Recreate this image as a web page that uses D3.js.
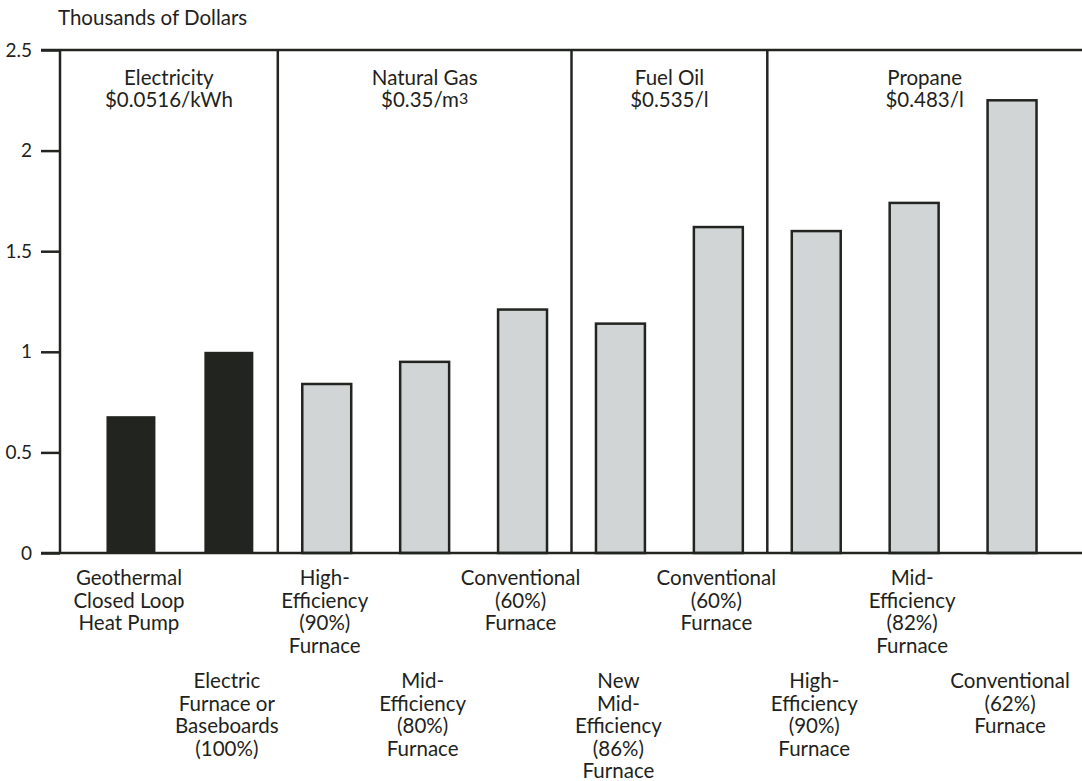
<!DOCTYPE html>
<html>
<head>
<meta charset="utf-8">
<script src="https://cdn.jsdelivr.net/npm/d3@7"></script>
<style>
  html, body { margin: 0; padding: 0; background: #fff; }
  #chart { width: 1082px; height: 781px; }
  text { font-family: Lato, "Open Sans", sans-serif; fill: #231f20; }
</style>
</head>
<body>
<div id="chart"></div>
<script>
// heating costs, thousands of dollars
const categories = [
    ["Geothermal", "Closed Loop", "Heat Pump"],
    ["Electric", "Furnace or", "Baseboards", "(100%)"],
    ["High-", "Efficiency", "(90%)", "Furnace"],
    ["Mid-", "Efficiency", "(80%)", "Furnace"],
    ["Conventional", "(60%)", "Furnace"],
    ["New", "Mid-", "Efficiency", "(86%)", "Furnace"],
    ["Conventional", "(60%)", "Furnace"],
    ["High-", "Efficiency", "(90%)", "Furnace"],
    ["Mid-", "Efficiency", "(82%)", "Furnace"],
    ["Conventional", "(62%)", "Furnace"]
];
const costs = [0.68, 1.0, 0.84, 0.95, 1.21, 1.14, 1.62, 1.60, 1.74, 2.25];
const fuelOf = [0, 0, 1, 1, 1, 2, 2, 3, 3, 3];
const fuels = [
    {name: "Electricity", price: "$0.0516/kWh"},
    {name: "Natural Gas", price: "$0.35/m", sup: "3"},
    {name: "Fuel Oil", price: "$0.535/l"},
    {name: "Propane", price: "$0.483/l"}
];
const yTicks = [0, 0.5, 1, 1.5, 2, 2.5];
const yTickLabels = ["0", "0.5", "1", "1.5", "2", "2.5"];

function renderChart(selector) {
    const W = 1082, H = 781;
    const left = 60, right = 1082, top = 50, bottom = 553;
    const ink = "#222420";
    const fs = 20.5;

    const svg = d3.select(selector).append("svg")
        .attr("width", W)
        .attr("height", H);

    const idx = d3.range(categories.length);

    const x = d3.scaleBand()
        .domain(idx)
        .range([82, 1061])
        .paddingInner(0.5)
        .paddingOuter(0.25);

    const y = d3.scaleLinear()
        .domain([0, 2.5])
        .range([bottom, top]);

    // bars
    svg.selectAll(".bar")
        .data(idx)
        .enter()
        .append("rect")
        .attr("class", "bar")
        .attr("x", i => x(i))
        .attr("y", i => y(costs[i]))
        .attr("width", x.bandwidth())
        .attr("height", i => y(0) - y(costs[i]))
        .attr("fill", i => fuelOf[i] === 0 ? ink : "#d1d5d6")
        .attr("stroke", i => fuelOf[i] === 0 ? "none" : ink)
        .attr("stroke-width", 2.5);

    // frame lines
    svg.append("line")
        .attr("x1", 41).attr("x2", right)
        .attr("y1", y(2.5)).attr("y2", y(2.5))
        .attr("stroke", ink).attr("stroke-width", 2.5);
    svg.append("line")
        .attr("x1", 41).attr("x2", right)
        .attr("y1", y(0)).attr("y2", y(0))
        .attr("stroke", ink).attr("stroke-width", 2.5);

    // y axis
    const yAxis = svg.append("g")
        .attr("transform", `translate(${left},0)`)
        .call(d3.axisLeft(y)
            .tickValues(yTicks)
            .tickFormat((d, i) => yTickLabels[i])
            .tickSize(19)
            .tickPadding(9));
    yAxis.select(".domain").remove();
    yAxis.selectAll(".tick line").attr("stroke", ink).attr("stroke-width", 2.5);
    yAxis.selectAll(".tick text")
        .attr("font-size", 19)
        .attr("font-family", "Lato, sans-serif")
        .attr("fill", "#231f20");
    svg.append("line")
        .attr("x1", left).attr("x2", left)
        .attr("y1", top).attr("y2", bottom)
        .attr("stroke", ink).attr("stroke-width", 2.5);

    // fuel group dividers and headers
    const groupBounds = fuels.map((f, g) => {
        const members = idx.filter(i => fuelOf[i] === g);
        const half = x.step() * x.paddingInner() / 2;
        const x0 = g === 0 ? left : x(members[0]) - half;
        const x1 = g === fuels.length - 1 ? right : x(members[members.length - 1]) + x.bandwidth() + half;
        return [x0, x1];
    });

    groupBounds.slice(1).forEach(b => {
        svg.append("line")
            .attr("x1", b[0]).attr("x2", b[0])
            .attr("y1", top).attr("y2", bottom)
            .attr("stroke", ink).attr("stroke-width", 2.5);
    });

    fuels.forEach((f, g) => {
        const cx = (groupBounds[g][0] + groupBounds[g][1]) / 2;
        svg.append("text")
            .attr("x", cx).attr("y", 85)
            .attr("text-anchor", "middle")
            .attr("font-size", fs)
            .text(f.name);
        const t = svg.append("text")
            .attr("x", cx).attr("y", 107)
            .attr("text-anchor", "middle")
            .attr("font-size", fs);
        t.append("tspan").text(f.price);
        if (f.sup) {
            t.append("tspan")
                .attr("dy", -3)
                .attr("font-size", 16)
                .text(f.sup);
        }
    });

    // category labels, alternating rows
    const labels = svg.selectAll(".cat")
        .data(idx)
        .enter()
        .append("text")
        .attr("class", "cat")
        .attr("text-anchor", "middle")
        .attr("font-size", fs);
    labels.each(function(i) {
        const cx = x(i) + x.bandwidth() / 2 - 2;
        const y0 = i % 2 === 0 ? 585 : 688;
        d3.select(this).selectAll("tspan")
            .data(categories[i])
            .enter()
            .append("tspan")
            .attr("x", cx)
            .attr("y", (d, k) => y0 + k * 22.5)
            .text(d => d);
    });

    // unit title
    svg.append("text")
        .attr("x", 58).attr("y", 25)
        .attr("font-size", fs)
        .text("Thousands of Dollars");
}

renderChart("#chart");
</script>
</body>
</html>
